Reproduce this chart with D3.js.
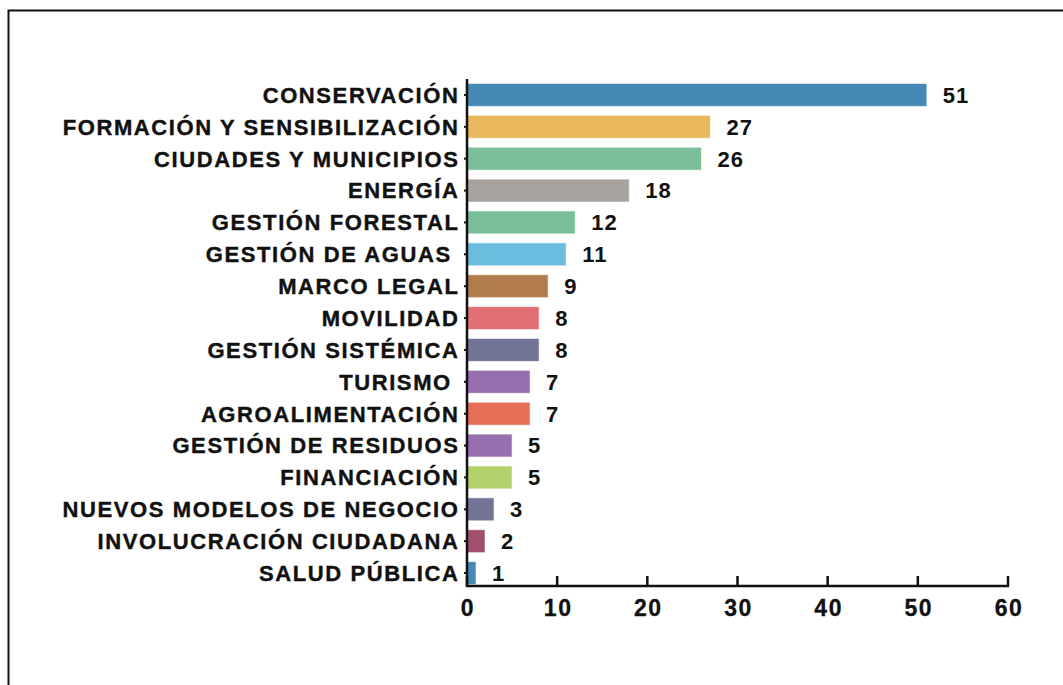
<!DOCTYPE html>
<html><head><meta charset="utf-8">
<script src="https://cdn.jsdelivr.net/npm/d3@7"></script>
<style>
html,body{margin:0;padding:0;background:#fff;}
svg{display:block;}
text{font-family:"Liberation Sans",Arial,sans-serif;font-weight:bold;fill:#111;white-space:pre;}
</style></head>
<body>
<svg id="c" width="1063" height="685"></svg>
<script>
const categories = ["CONSERVACIÓN","FORMACIÓN Y SENSIBILIZACIÓN","CIUDADES Y MUNICIPIOS","ENERGÍA","GESTIÓN FORESTAL","GESTIÓN DE AGUAS ","MARCO LEGAL","MOVILIDAD","GESTIÓN SISTÉMICA","TURISMO ","AGROALIMENTACIÓN","GESTIÓN DE RESIDUOS","FINANCIACIÓN","NUEVOS MODELOS DE NEGOCIO","INVOLUCRACIÓN CIUDADANA","SALUD PÚBLICA"];
const values = [51,27,26,18,12,11,9,8,8,7,7,5,5,3,2,1];
const colors = ["#4689b7","#e9b85d","#7bbf9a","#a8a39e","#7bbf9a","#6bbde0","#b07c4b","#e07074","#727596","#976fae","#e56f56","#976fae","#b3d16a","#727596","#a04f6f","#4689b7"];
const xTicks = [0,10,20,30,40,50,60];

const svg = d3.select("#c");
svg.append("path").attr("d","M8.5,685 L8.5,10.5 L1070,10.5").attr("fill","none").attr("stroke","#111").attr("stroke-width",2);

const x = d3.scaleLinear().domain([0,60]).range([467,1008]);
const y = d3.scaleBand().domain(categories).range([79,589]).paddingInner(0.28).paddingOuter(0.14);

svg.selectAll("rect.bar").data(values).enter().append("rect")
  .attr("class","bar")
  .attr("x",x(0))
  .attr("y",(d,i)=>y(categories[i]))
  .attr("width",d=>x(d)-x(0))
  .attr("height",y.bandwidth())
  .attr("fill",(d,i)=>colors[i])
  .attr("stroke","rgba(255,255,255,0.6)").attr("stroke-width",1);

svg.selectAll("text.val").data(values).enter().append("text")
  .attr("class","val")
  .attr("x",d=>x(d)+16)
  .attr("y",(d,i)=>y(categories[i])+y.bandwidth()/2)
  .attr("dy","0.36em")
  .attr("font-size",22)
  .attr("letter-spacing",1)
  .text(d=>d);

svg.selectAll("text.cat").data(categories).enter().append("text")
  .attr("class","cat")
  .attr("x",459.5)
  .attr("y",d=>y(d)+y.bandwidth()/2)
  .attr("dy","0.36em")
  .attr("text-anchor","end")
  .attr("font-size",22)
  .attr("letter-spacing",1.6)
  .attr("stroke","#111").attr("stroke-width",0.4)
  .text(d=>d);

// y axis with small ticks
svg.selectAll("line.yt").data(categories).enter().append("line").attr("class","yt")
  .attr("x1",x(0)-3).attr("x2",x(0))
  .attr("y1",d=>y(d)+y.bandwidth()/2).attr("y2",d=>y(d)+y.bandwidth()/2)
  .attr("stroke","#111").attr("stroke-width",2);
svg.append("line").attr("x1",x(0)).attr("x2",x(0)).attr("y1",79).attr("y2",587)
  .attr("stroke","#111").attr("stroke-width",2.5);

const xa = svg.append("g").attr("transform","translate(0,586)");
xa.append("line").attr("x1",x(0)-1).attr("x2",x(60)+1).attr("stroke","#111").attr("stroke-width",2.5);
xa.selectAll("line.t").data(xTicks).enter().append("line").attr("class","t")
  .attr("x1",d=>x(d)).attr("x2",d=>x(d)).attr("y1",0).attr("y2",-10)
  .attr("stroke","#111").attr("stroke-width",2.5);
xa.selectAll("text").data(xTicks).enter().append("text")
  .attr("x",d=>x(d)+1).attr("y",30).attr("text-anchor","middle")
  .attr("font-size",23)
  .attr("letter-spacing",1.5)
  .attr("stroke","#111").attr("stroke-width",0.3)
  .text(d=>d);
</script>
</body></html>
